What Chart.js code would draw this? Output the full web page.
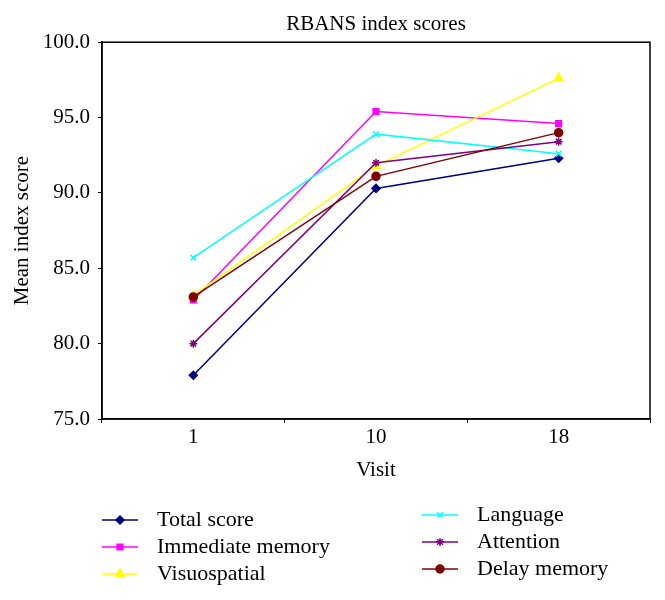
<!DOCTYPE html>
<html lang="en">
<head>
    <meta charset="UTF-8">
    <title>RBANS index scores</title>
    <script src="https://cdn.jsdelivr.net/npm/chart.js@4.4.1/dist/chart.umd.min.js"></script>
    <style>
        body { margin: 0; background: #fff; }
        canvas { display: block; }
    </style>
</head>
<body>
    <canvas id="myChart" width="665" height="600"></canvas>

    <script>
// values
const visits = ['1', '10', '18'];
const totalScore = [77.9, 90.3, 92.3];
const immediateMemory = [82.9, 95.4, 94.6];
const visuospatial = [83.2, 91.8, 97.6];
const language = [85.7, 93.9, 92.6];
const attention = [80.0, 92.0, 93.4];
const delayMemory = [83.1, 91.1, 94.0];
const yTicks = [75, 80, 85, 90, 95, 100];

const serif = "'Liberation Serif', 'Times New Roman', serif";

const series = [
    { label: 'Total score', data: totalScore, color: '#000080', style: 'rectRot', r: 4 },
    { label: 'Immediate memory', data: immediateMemory, color: '#ff00ff', style: 'rect', r: 4 },
    { label: 'Visuospatial', data: visuospatial, color: '#ffff00', style: 'triangle', r: 5 },
    { label: 'Language', data: language, color: '#00ffff', style: 'crossRot', r: 4 },
    { label: 'Attention', data: attention, color: '#800080', style: 'star', r: 4 },
    { label: 'Delay memory', data: delayMemory, color: '#800000', style: 'circle', r: 4 }
];

// box around plot + two column legend under the axis
const boxAndLegend = {
    id: 'boxAndLegend',
    afterDraw(chart) {
        const ctx = chart.ctx;
        const a = chart.chartArea;
        ctx.save();
        ctx.strokeStyle = '#000';
        ctx.lineWidth = 1.5;
        ctx.strokeRect(a.left, a.top, a.right - a.left, a.bottom - a.top);

        ctx.font = '22px ' + serif;
        ctx.fillStyle = '#000';
        ctx.textBaseline = 'middle';
        ctx.textAlign = 'left';
        chart.data.datasets.forEach((ds, i) => {
            const col = i < 3 ? 0 : 1;
            const row = i % 3;
            const x = a.left + col * 320;
            const y = a.bottom + (col === 0 ? 101 : 96) + row * 27;
            ctx.strokeStyle = ds.borderColor;
            ctx.lineWidth = 1.5;
            ctx.beginPath();
            ctx.moveTo(x, y);
            ctx.lineTo(x + 36, y);
            ctx.stroke();
            ctx.fillStyle = ds.backgroundColor;
            Chart.helpers.drawPoint(ctx, {
                pointStyle: ds.pointStyle,
                radius: ds.pointRadius,
                rotation: 0,
                borderWidth: 1.5
            }, x + 18, y);
            ctx.fillStyle = '#000';
            ctx.fillText(ds.label, x + 55, y);
        });
        ctx.restore();
    }
};

new Chart(document.getElementById('myChart'), {
    type: 'line',
    data: {
        labels: visits,
        datasets: series.map((s, i) => ({
            label: s.label,
            data: s.data,
            borderColor: s.color,
            backgroundColor: s.color,
            borderWidth: 1.5,
            pointStyle: s.style,
            pointRadius: s.r,
            pointBorderWidth: 1.5,
            order: series.length - i,
            tension: 0
        }))
    },
    options: {
        responsive: false,
        animation: false,
        layout: { padding: { top: 0, right: 15, bottom: 117, left: 0 } },
        plugins: {
            legend: { display: false },
            tooltip: { enabled: false },
            title: {
                display: true,
                text: 'RBANS index scores',
                fullSize: false,
                color: '#000',
                font: { family: serif, size: 21, weight: 'normal' },
                padding: { top: 12, bottom: 5 }
            }
        },
        scales: {
            x: {
                offset: true,
                grid: { display: true, offset: true, drawOnChartArea: false, tickLength: 4, color: '#000' },
                border: { color: '#000', width: 1.5 },
                ticks: { color: '#000', padding: 2, font: { family: serif, size: 21 } },
                title: {
                    display: true, text: 'Visit', color: '#000',
                    font: { family: serif, size: 21 }, padding: { top: 0, bottom: 0 }
                },
                afterFit(scale) { scale.height = 64; }
            },
            y: {
                min: 75,
                max: 100,
                afterBuildTicks(scale) { scale.ticks = yTicks.map(v => ({ value: v })); },
                grid: { display: true, drawOnChartArea: false, tickLength: 4, color: '#000' },
                border: { color: '#000', width: 1.5 },
                ticks: {
                    color: '#000', padding: 8, font: { family: serif, size: 21 },
                    callback: v => Number(v).toFixed(1)
                },
                title: {
                    display: true, text: 'Mean index score', color: '#000',
                    font: { family: serif, size: 21 }, padding: { top: 10, bottom: 0 }
                },
                afterFit(scale) { scale.width = 102; }
            }
        }
    },
    plugins: [boxAndLegend]
});
    </script>
</body>
</html>
